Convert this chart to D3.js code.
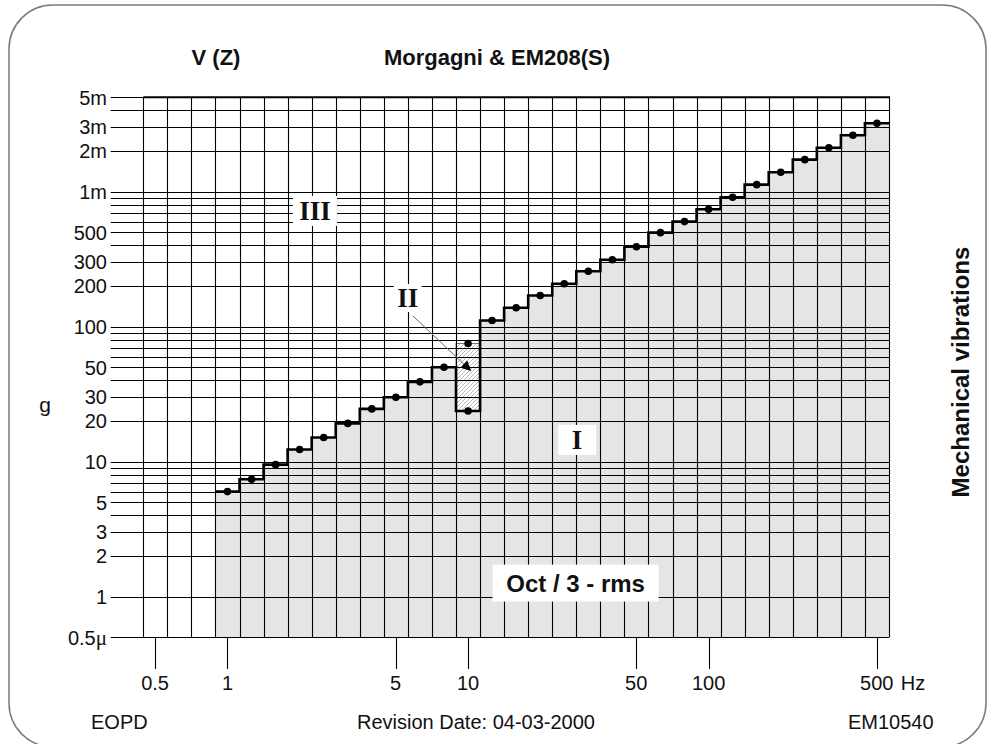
<!DOCTYPE html>
<html>
<head>
<meta charset="utf-8">
<script src="https://cdn.jsdelivr.net/npm/d3@7"></script>
<style>
    body { margin: 0; background: #fff; }
    svg { display: block; font-family: 'Liberation Sans', Arial, sans-serif; }
</style>
</head>
<body>
<div id="chart"></div>
<script>
/* third-octave band centres drawn as columns */
const bands = [0.5, 0.63, 0.8, 1, 1.25, 1.6, 2, 2.5, 3.15, 4, 5, 6.3, 8, 10, 12.5, 16, 20, 25, 31.5, 40, 50, 63, 80, 100, 125, 160, 200, 250, 315, 400, 500];

/* criterion curve (µg rms), one value per band from 1 Hz */
const limitBands = [1, 1.25, 1.6, 2, 2.5, 3.15, 4, 5, 6.3, 8, 10, 12.5, 16, 20, 25, 31.5, 40, 50, 63, 80, 100, 125, 160, 200, 250, 315, 400, 500];
const limitValues = [6.0, 7.4, 9.5, 12.3, 15.1, 19.2, 24.6, 30, 39, 50, 23.7, 111, 138, 170, 208, 257, 313, 391, 497, 600, 741, 909, 1127, 1393, 1727, 2117, 2618, 3213];

/* zone II (hatched) at 10 Hz */
const zone2Band = 10;
const zone2Range = [23.7, 75];

/* axes */
const yGridValues = [0.5, 1, 2, 3, 4, 5, 6, 7, 8, 9, 10, 20, 30, 40, 50, 60, 70, 80, 90, 100, 200, 300, 400, 500, 600, 700, 800, 900, 1000, 2000, 3000, 4000, 5000];
const yTickValues = [0.5, 1, 2, 3, 5, 10, 20, 30, 50, 100, 200, 300, 500, 1000, 2000, 3000, 5000];
const yTickLabels = ['0.5', '1', '2', '3', '5', '10', '20', '30', '50', '100', '200', '300', '500', '1m', '2m', '3m', '5m'];
const xTickValues = [0.5, 1, 5, 10, 50, 100, 500];
const xTickLabels = ['0.5', '1', '5', '10', '50', '100', '500'];

const width = 992;
const height = 744;

const svg = d3.select('#chart')
    .append('svg')
    .attr('width', width)
    .attr('height', height);

/* exact third-octave centre and edges */
const centre = f => Math.pow(10, Math.round(10 * Math.log10(f)) / 10);
const lowEdge = f => centre(f) * Math.pow(10, -0.05);
const highEdge = f => centre(f) * Math.pow(10, 0.05);

const xScale = d3.scaleLog()
    .domain([lowEdge(bands[0]), highEdge(bands[bands.length - 1])])
    .range([143.3, 889]);

const yScale = d3.scaleLog()
    .domain([0.5, 5000])
    .range([637.3, 97.3]);

const plotLeft = xScale.range()[0];
const plotRight = xScale.range()[1];
const plotTop = yScale.range()[1];
const plotBottom = yScale.range()[0];

/* outer rounded frame */
svg.append('rect')
    .attr('x', 9).attr('y', 5)
    .attr('width', 977).attr('height', 742)
    .attr('rx', 44).attr('ry', 44)
    .attr('fill', 'none')
    .attr('stroke', '#7a7a7a')
    .attr('stroke-width', 1.5);

/* hatch pattern */
const defs = svg.append('defs');
defs.append('pattern')
    .attr('id', 'hatch')
    .attr('patternUnits', 'userSpaceOnUse')
    .attr('width', 4).attr('height', 4)
    .append('path')
    .attr('d', 'M-1,1 l2,-2 M0,4 l4,-4 M3,5 l2,-2')
    .attr('stroke', '#a8a8a8')
    .attr('stroke-width', 0.8);

/* step points */
const stepPoints = [];
limitBands.forEach((f, i) => {
    stepPoints.push([lowEdge(f), limitValues[i]]);
    stepPoints.push([highEdge(f), limitValues[i]]);
});

/* grey area under the curve */
svg.append('path')
    .datum(stepPoints)
    .attr('fill', '#e5e5e5')
    .attr('d', d3.area()
        .x(d => xScale(d[0]))
        .y0(plotBottom)
        .y1(d => yScale(d[1])));

/* hatched zone II */
svg.append('rect')
    .attr('x', xScale(lowEdge(zone2Band)))
    .attr('y', yScale(zone2Range[1]))
    .attr('width', xScale(highEdge(zone2Band)) - xScale(lowEdge(zone2Band)))
    .attr('height', yScale(zone2Range[0]) - yScale(zone2Range[1]))
    .attr('fill', 'url(#hatch)')
    .attr('stroke', '#555')
    .attr('stroke-width', 0.8);

/* horizontal grid lines */
svg.append('g')
    .selectAll('line')
    .data(yGridValues)
    .join('line')
    .attr('x1', 110.7)
    .attr('x2', plotRight)
    .attr('y1', d => Math.round(yScale(d)) + 0.5)
    .attr('y2', d => Math.round(yScale(d)) + 0.5)
    .attr('stroke', '#000')
    .attr('stroke-width', 1.1);

/* vertical grid lines at band edges */
const edges = bands.map(lowEdge).concat([highEdge(bands[bands.length - 1])]);
svg.append('g')
    .selectAll('line')
    .data(edges)
    .join('line')
    .attr('x1', d => Math.round(xScale(d)) + 0.5)
    .attr('x2', d => Math.round(xScale(d)) + 0.5)
    .attr('y1', plotTop)
    .attr('y2', plotBottom)
    .attr('stroke', '#000')
    .attr('stroke-width', 1.1);

/* thick top border */
svg.append('line')
    .attr('x1', plotLeft).attr('x2', plotRight + 1)
    .attr('y1', plotTop).attr('y2', plotTop)
    .attr('stroke', '#000')
    .attr('stroke-width', 2);

/* y labels */
svg.append('g')
    .selectAll('text')
    .data(yTickValues)
    .join('text')
    .attr('x', 107)
    .attr('y', d => yScale(d))
    .attr('dy', '0.36em')
    .attr('text-anchor', 'end')
    .attr('font-size', 20)
    .attr('fill', '#111')
    .each(function (d, i) {
        const t = d3.select(this);
        t.append('tspan').text(yTickLabels[i]);
        if (i === 0) {
            t.append('tspan').text('\u03bc')
                .attr('font-family', "'Liberation Serif', serif")
                .attr('font-size', 21);
        }
    });

/* y unit */
svg.append('text')
    .text('g')
    .attr('x', 45)
    .attr('y', 412)
    .attr('text-anchor', 'middle')
    .attr('font-size', 21)
    .attr('fill', '#111');

/* x ticks */
svg.append('g')
    .selectAll('line')
    .data(xTickValues)
    .join('line')
    .attr('x1', d => Math.round(xScale(d)) + 0.5)
    .attr('x2', d => Math.round(xScale(d)) + 0.5)
    .attr('y1', plotBottom)
    .attr('y2', 669)
    .attr('stroke', '#000')
    .attr('stroke-width', 1.1);

svg.append('g')
    .selectAll('text')
    .data(xTickValues)
    .join('text')
    .text((d, i) => xTickLabels[i])
    .attr('x', d => xScale(d))
    .attr('y', 690)
    .attr('text-anchor', 'middle')
    .attr('font-size', 20)
    .attr('fill', '#111');

svg.append('text')
    .text('Hz')
    .attr('x', xScale(500) + 24)
    .attr('y', 690)
    .attr('font-size', 20)
    .attr('fill', '#111');

/* step curve */
svg.append('path')
    .datum(stepPoints)
    .attr('fill', 'none')
    .attr('stroke', '#000')
    .attr('stroke-width', 2.6)
    .attr('d', d3.line()
        .x(d => xScale(d[0]))
        .y(d => yScale(d[1])));

/* dots at band centres */
svg.append('g')
    .selectAll('circle')
    .data(limitBands)
    .join('circle')
    .attr('cx', d => xScale(centre(d)))
    .attr('cy', (d, i) => yScale(limitValues[i]))
    .attr('r', 3.8)
    .attr('fill', '#000');

svg.append('circle')
    .attr('cx', xScale(centre(zone2Band)))
    .attr('cy', yScale(zone2Range[1]))
    .attr('r', 3.8)
    .attr('fill', '#000');

/* arrow from label II into the hatched zone */
defs.append('marker')
    .attr('id', 'arrow')
    .attr('viewBox', '0 0 10 10')
    .attr('refX', 10).attr('refY', 5)
    .attr('markerWidth', 11).attr('markerHeight', 10)
    .attr('markerUnits', 'userSpaceOnUse')
    .attr('orient', 'auto')
    .append('path')
    .attr('d', 'M0,0 L10,5 L0,10 z')
    .attr('fill', '#000');

svg.append('line')
    .attr('x1', xScale(5.9)).attr('y1', yScale(120))
    .attr('x2', xScale(10.3)).attr('y2', yScale(47))
    .attr('stroke', '#666')
    .attr('stroke-width', 1)
    .attr('marker-end', 'url(#arrow)');

/* zone labels with white backing */
function zoneLabel(text, f, v, w, h, opts) {
    const cx = xScale(f);
    const cy = yScale(v);
    svg.append('rect')
        .attr('x', cx - w / 2).attr('y', cy - h / 2)
        .attr('width', w).attr('height', h)
        .attr('fill', '#fff');
    svg.append('text')
        .text(text)
        .attr('x', cx)
        .attr('y', cy)
        .attr('dy', '0.35em')
        .attr('text-anchor', 'middle')
        .attr('font-family', opts.family)
        .attr('font-weight', 'bold')
        .attr('font-size', opts.size)
        .attr('fill', '#111');
}

zoneLabel('III', 2.31, 720, 44, 30, { family: "'Liberation Serif', serif", size: 27 });
zoneLabel('II', 5.62, 163, 28, 28, { family: "'Liberation Serif', serif", size: 27 });
zoneLabel('I', 28.4, 14.5, 38, 30, { family: "'Liberation Serif', serif", size: 27 });
zoneLabel('Oct / 3 - rms', 28, 1.26, 166, 37, { family: "'Liberation Sans', Arial, sans-serif", size: 24 });

/* titles */
svg.append('text')
    .text('V (Z)')
    .attr('x', 216).attr('y', 65)
    .attr('text-anchor', 'middle')
    .attr('font-weight', 'bold')
    .attr('font-size', 22)
    .attr('fill', '#111');

svg.append('text')
    .text('Morgagni & EM208(S)')
    .attr('x', 497).attr('y', 65)
    .attr('text-anchor', 'middle')
    .attr('font-weight', 'bold')
    .attr('font-size', 22)
    .attr('fill', '#111');

svg.append('text')
    .text('Mechanical vibrations')
    .attr('transform', 'translate(969,372) rotate(-90)')
    .attr('text-anchor', 'middle')
    .attr('font-weight', 'bold')
    .attr('font-size', 24)
    .attr('fill', '#111');

/* footer */
svg.append('text')
    .text('EOPD')
    .attr('x', 91).attr('y', 729)
    .attr('font-size', 20)
    .attr('fill', '#111');

svg.append('text')
    .text('Revision Date: 04-03-2000')
    .attr('x', 476).attr('y', 729)
    .attr('text-anchor', 'middle')
    .attr('font-size', 20)
    .attr('fill', '#111');

svg.append('text')
    .text('EM10540')
    .attr('x', 848).attr('y', 729)
    .attr('font-size', 20)
    .attr('fill', '#111');
</script>
</body>
</html>
